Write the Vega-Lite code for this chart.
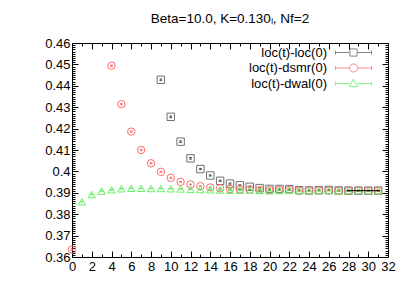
{
  "$schema": "https://vega.github.io/schema/vega-lite/v6.json",
  "autosize": "none",
  "width": 316,
  "height": 214,
  "padding": {"left": 72, "top": 43, "right": 21, "bottom": 29},
  "title": {"text": "Beta=10.0, K=0.130ₗ, Nf=2", "font": "Liberation Sans", "fontSize": 13.5, "fontWeight": "normal", "anchor": "middle", "offset": 12, "color": "black"},
  "config": {
    "view": {"stroke": "black", "strokeWidth": 1},
    "axis": {"grid": false, "domain": false, "tickColor": "black", "tickWidth": 1, "labelColor": "black", "labelFont": "Liberation Sans", "labelFontSize": 13, "labelOverlap": false, "labelFlush": false, "title": null}
  },
  "data": {"values": [
    {"series": "loc(t)-loc(0)", "t": 9, "y": 0.4428, "err": 0.0004},
    {"series": "loc(t)-loc(0)", "t": 10, "y": 0.4255, "err": 0.0004},
    {"series": "loc(t)-loc(0)", "t": 11, "y": 0.4139, "err": 0.0004},
    {"series": "loc(t)-loc(0)", "t": 12, "y": 0.4061, "err": 0.0004},
    {"series": "loc(t)-loc(0)", "t": 13, "y": 0.4011, "err": 0.0003},
    {"series": "loc(t)-loc(0)", "t": 14, "y": 0.3981, "err": 0.0003},
    {"series": "loc(t)-loc(0)", "t": 15, "y": 0.3956, "err": 0.0003},
    {"series": "loc(t)-loc(0)", "t": 16, "y": 0.3943, "err": 0.0003},
    {"series": "loc(t)-loc(0)", "t": 17, "y": 0.3935, "err": 0.0003},
    {"series": "loc(t)-loc(0)", "t": 18, "y": 0.3928, "err": 0.0003},
    {"series": "loc(t)-loc(0)", "t": 19, "y": 0.3922, "err": 0.0002},
    {"series": "loc(t)-loc(0)", "t": 20, "y": 0.3918, "err": 0.0002},
    {"series": "loc(t)-loc(0)", "t": 21, "y": 0.3918, "err": 0.0002},
    {"series": "loc(t)-loc(0)", "t": 22, "y": 0.3917, "err": 0.0002},
    {"series": "loc(t)-loc(0)", "t": 23, "y": 0.3912, "err": 0.0002},
    {"series": "loc(t)-loc(0)", "t": 24, "y": 0.3911, "err": 0.0002},
    {"series": "loc(t)-loc(0)", "t": 25, "y": 0.3912, "err": 0.0002},
    {"series": "loc(t)-loc(0)", "t": 26, "y": 0.3913, "err": 0.0002},
    {"series": "loc(t)-loc(0)", "t": 27, "y": 0.3911, "err": 0.0002},
    {"series": "loc(t)-loc(0)", "t": 28, "y": 0.3910, "err": 0.0002},
    {"series": "loc(t)-loc(0)", "t": 29, "y": 0.3910, "err": 0.0002},
    {"series": "loc(t)-loc(0)", "t": 30, "y": 0.3910, "err": 0.0002},
    {"series": "loc(t)-loc(0)", "t": 31, "y": 0.3910, "err": 0.0002},
    {"series": "loc(t)-dsmr(0)", "t": 0, "y": 0.3635, "err": 0.0003},
    {"series": "loc(t)-dsmr(0)", "t": 4, "y": 0.4494, "err": 0.0003},
    {"series": "loc(t)-dsmr(0)", "t": 5, "y": 0.4314, "err": 0.0003},
    {"series": "loc(t)-dsmr(0)", "t": 6, "y": 0.4186, "err": 0.0003},
    {"series": "loc(t)-dsmr(0)", "t": 7, "y": 0.4100, "err": 0.0003},
    {"series": "loc(t)-dsmr(0)", "t": 8, "y": 0.4038, "err": 0.0003},
    {"series": "loc(t)-dsmr(0)", "t": 9, "y": 0.3998, "err": 0.0003},
    {"series": "loc(t)-dsmr(0)", "t": 10, "y": 0.3970, "err": 0.0003},
    {"series": "loc(t)-dsmr(0)", "t": 11, "y": 0.3951, "err": 0.0002},
    {"series": "loc(t)-dsmr(0)", "t": 12, "y": 0.3939, "err": 0.0002},
    {"series": "loc(t)-dsmr(0)", "t": 13, "y": 0.3931, "err": 0.0002},
    {"series": "loc(t)-dsmr(0)", "t": 14, "y": 0.3925, "err": 0.0002},
    {"series": "loc(t)-dsmr(0)", "t": 15, "y": 0.3921, "err": 0.0002},
    {"series": "loc(t)-dsmr(0)", "t": 16, "y": 0.3918, "err": 0.0002},
    {"series": "loc(t)-dsmr(0)", "t": 17, "y": 0.3916, "err": 0.0002},
    {"series": "loc(t)-dsmr(0)", "t": 18, "y": 0.3915, "err": 0.0002},
    {"series": "loc(t)-dsmr(0)", "t": 19, "y": 0.3913, "err": 0.0002},
    {"series": "loc(t)-dsmr(0)", "t": 20, "y": 0.3912, "err": 0.0002},
    {"series": "loc(t)-dsmr(0)", "t": 21, "y": 0.3913, "err": 0.0002},
    {"series": "loc(t)-dsmr(0)", "t": 22, "y": 0.3913, "err": 0.0002},
    {"series": "loc(t)-dsmr(0)", "t": 23, "y": 0.3910, "err": 0.0002},
    {"series": "loc(t)-dsmr(0)", "t": 24, "y": 0.3910, "err": 0.0002},
    {"series": "loc(t)-dsmr(0)", "t": 25, "y": 0.3911, "err": 0.0002},
    {"series": "loc(t)-dsmr(0)", "t": 26, "y": 0.3911, "err": 0.0002},
    {"series": "loc(t)-dsmr(0)", "t": 27, "y": 0.3910, "err": 0.0002},
    {"series": "loc(t)-dsmr(0)", "t": 28, "y": 0.3910, "err": 0.0002},
    {"series": "loc(t)-dsmr(0)", "t": 29, "y": 0.3910, "err": 0.0002},
    {"series": "loc(t)-dsmr(0)", "t": 30, "y": 0.3910, "err": 0.0002},
    {"series": "loc(t)-dsmr(0)", "t": 31, "y": 0.3910, "err": 0.0002},
    {"series": "loc(t)-dwal(0)", "t": 1, "y": 0.3858, "err": 0.0001},
    {"series": "loc(t)-dwal(0)", "t": 2, "y": 0.3892, "err": 0.0001},
    {"series": "loc(t)-dwal(0)", "t": 3, "y": 0.3908, "err": 0.0001},
    {"series": "loc(t)-dwal(0)", "t": 4, "y": 0.3914, "err": 0.0001},
    {"series": "loc(t)-dwal(0)", "t": 5, "y": 0.3919, "err": 0.0001},
    {"series": "loc(t)-dwal(0)", "t": 6, "y": 0.3921, "err": 0.0001},
    {"series": "loc(t)-dwal(0)", "t": 7, "y": 0.3921, "err": 0.0001},
    {"series": "loc(t)-dwal(0)", "t": 8, "y": 0.3920, "err": 0.0001},
    {"series": "loc(t)-dwal(0)", "t": 9, "y": 0.3920, "err": 0.0001},
    {"series": "loc(t)-dwal(0)", "t": 10, "y": 0.3919, "err": 0.0001},
    {"series": "loc(t)-dwal(0)", "t": 11, "y": 0.3918, "err": 0.0001},
    {"series": "loc(t)-dwal(0)", "t": 12, "y": 0.3916, "err": 0.0001},
    {"series": "loc(t)-dwal(0)", "t": 13, "y": 0.3915, "err": 0.0001},
    {"series": "loc(t)-dwal(0)", "t": 14, "y": 0.3914, "err": 0.0001},
    {"series": "loc(t)-dwal(0)", "t": 15, "y": 0.3913, "err": 0.0001},
    {"series": "loc(t)-dwal(0)", "t": 16, "y": 0.3912, "err": 0.0001},
    {"series": "loc(t)-dwal(0)", "t": 17, "y": 0.3912, "err": 0.0001},
    {"series": "loc(t)-dwal(0)", "t": 18, "y": 0.3913, "err": 0.0001},
    {"series": "loc(t)-dwal(0)", "t": 19, "y": 0.3911, "err": 0.0001},
    {"series": "loc(t)-dwal(0)", "t": 20, "y": 0.3910, "err": 0.0001},
    {"series": "loc(t)-dwal(0)", "t": 21, "y": 0.3911, "err": 0.0001},
    {"series": "loc(t)-dwal(0)", "t": 22, "y": 0.3912, "err": 0.0001},
    {"series": "loc(t)-dwal(0)", "t": 23, "y": 0.3910, "err": 0.0001},
    {"series": "loc(t)-dwal(0)", "t": 24, "y": 0.3910, "err": 0.0001},
    {"series": "loc(t)-dwal(0)", "t": 25, "y": 0.3910, "err": 0.0001},
    {"series": "loc(t)-dwal(0)", "t": 26, "y": 0.3911, "err": 0.0001},
    {"series": "loc(t)-dwal(0)", "t": 27, "y": 0.3910, "err": 0.0001},
    {"series": "loc(t)-dwal(0)", "t": 28, "y": 0.3910, "err": 0.0001},
    {"series": "loc(t)-dwal(0)", "t": 29, "y": 0.3910, "err": 0.0001},
    {"series": "loc(t)-dwal(0)", "t": 30, "y": 0.3910, "err": 0.0001},
    {"series": "loc(t)-dwal(0)", "t": 31, "y": 0.3910, "err": 0.0001}
  ]},
  "resolve": {"axis": {"x": "independent", "y": "independent"}, "scale": {"color": "independent", "shape": "independent"}},
  "layer": [
    {
      "mark": {"type": "errorbar", "thickness": 1, "ticks": {"size": 3, "thickness": 1}},
      "encoding": {
        "x": {"field": "t", "type": "quantitative", "scale": {"domain": [0, 32], "nice": false}, "axis": {"orient": "bottom", "title": null, "values": [0,2,4,6,8,10,12,14,16,18,20,22,24,26,28,30,32], "tickSize": -6, "labelPadding": 9, "labelOverlap": false, "labelFlush": false}},
        "y": {"field": "y", "type": "quantitative", "title": null, "scale": {"domain": [0.36, 0.46], "zero": false, "nice": false}, "axis": {"orient": "left", "title": null, "values": [0.36,0.37,0.38,0.39,0.4,0.41,0.42,0.43,0.44,0.45,0.46], "format": "~g", "tickSize": -6, "labelPadding": 8, "labelOverlap": false, "labelFlush": false}},
        "yError": {"field": "err"},
        "color": {"field": "series", "type": "nominal", "scale": {"domain": ["loc(t)-loc(0)", "loc(t)-dsmr(0)", "loc(t)-dwal(0)"], "range": ["#333333", "#ff5050", "#40e040"]}, "legend": null}
      }
    },
    {
      "mark": {"type": "point", "filled": false, "strokeWidth": 1, "size": 55, "opacity": 1},
      "encoding": {
        "x": {"field": "t", "type": "quantitative", "axis": null},
        "y": {"field": "y", "type": "quantitative", "axis": null},
        "shape": {"field": "series", "type": "nominal", "scale": {"domain": ["loc(t)-loc(0)", "loc(t)-dsmr(0)", "loc(t)-dwal(0)"], "range": ["square", "circle", "triangle-up"]}, "legend": null},
        "color": {"field": "series", "type": "nominal", "scale": {"domain": ["loc(t)-loc(0)", "loc(t)-dsmr(0)", "loc(t)-dwal(0)"], "range": ["#707070", "#ff6a6a", "#66f066"]}, "legend": null}
      }
    },
    {
      "data": {"values": [{"t": 27.8, "y": 0.391}, {"t": 31.2, "y": 0.391}]},
      "mark": {"type": "line", "color": "black", "strokeWidth": 1},
      "encoding": {
        "x": {"field": "t", "type": "quantitative", "axis": null},
        "y": {"field": "y", "type": "quantitative", "axis": null}
      }
    },
    {
      "transform": [{"filter": "datum.t < 0"}],
      "mark": {"type": "point", "filled": false, "strokeWidth": 1},
      "encoding": {
        "x": {"field": "t", "type": "quantitative", "axis": null},
        "y": {"field": "y", "type": "quantitative", "axis": null},
        "shape": {"field": "series", "type": "nominal", "scale": {"domain": ["loc(t)-loc(0)", "loc(t)-dsmr(0)", "loc(t)-dwal(0)"], "range": [
          "M-4,0H-0.8M0.8,0H4M-4,-0.45V0.45M4,-0.45V0.45M-0.8,-0.8H0.8V0.8H-0.8Z",
          "M-4,0H-0.9M0.9,0H4M-4,-0.45V0.45M4,-0.45V0.45M0.9,0A0.9,0.9 0 1,1 -0.9,0A0.9,0.9 0 1,1 0.9,0",
          "M-4,0H-0.9M0.9,0H4M-4,-0.45V0.45M4,-0.45V0.45M0,-0.95L0.95,0.7L-0.95,0.7Z"
        ]}, "legend": {"title": null}},
        "color": {"field": "series", "type": "nominal", "scale": {"domain": ["loc(t)-loc(0)", "loc(t)-dsmr(0)", "loc(t)-dwal(0)"], "range": ["#555555", "#ff6060", "#50f050"]}, "legend": {
          "title": null, "orient": "none", "legendX": 275, "legendY": 3, "padding": 0,
          "symbolSize": 81, "symbolStrokeWidth": 1, "symbolFillColor": "transparent",
          "labelAlign": "right", "labelOffset": -33, "labelFont": "Liberation Sans", "labelFontSize": 13, "labelColor": "black", "rowPadding": 1.5, "labelLimit": 300
        }}
      }
    },
    {
      "mark": {"type": "point", "opacity": 0},
      "encoding": {
        "x": {"field": "t", "type": "quantitative", "axis": {"orient": "top", "title": null, "values": [0,2,4,6,8,10,12,14,16,18,20,22,24,26,28,30,32], "tickSize": -6, "labels": false}},
        "y": {"field": "y", "type": "quantitative", "axis": {"orient": "right", "title": null, "values": [0.36,0.37,0.38,0.39,0.4,0.41,0.42,0.43,0.44,0.45,0.46], "tickSize": -6, "labels": false}}
      }
    },
    {
      "mark": {"type": "point", "opacity": 0},
      "encoding": {
        "x": {"field": "t", "type": "quantitative", "axis": {"orient": "bottom", "title": null, "values": [1,3,5,7,9,11,13,15,17,19,21,23,25,27,29,31], "tickSize": -3, "labels": false}},
        "y": {"field": "y", "type": "quantitative", "axis": {"orient": "left", "title": null, "values": [0.361,0.362,0.363,0.364,0.365,0.366,0.367,0.368,0.369,0.371,0.372,0.373,0.374,0.375,0.376,0.377,0.378,0.379,0.381,0.382,0.383,0.384,0.385,0.386,0.387,0.388,0.389,0.391,0.392,0.393,0.394,0.395,0.396,0.397,0.398,0.399,0.401,0.402,0.403,0.404,0.405,0.406,0.407,0.408,0.409,0.411,0.412,0.413,0.414,0.415,0.416,0.417,0.418,0.419,0.421,0.422,0.423,0.424,0.425,0.426,0.427,0.428,0.429,0.431,0.432,0.433,0.434,0.435,0.436,0.437,0.438,0.439,0.441,0.442,0.443,0.444,0.445,0.446,0.447,0.448,0.449,0.451,0.452,0.453,0.454,0.455,0.456,0.457,0.458,0.459], "tickSize": -3, "labels": false}}
      }
    },
    {
      "mark": {"type": "point", "opacity": 0},
      "encoding": {
        "x": {"field": "t", "type": "quantitative", "axis": {"orient": "top", "title": null, "values": [1,3,5,7,9,11,13,15,17,19,21,23,25,27,29,31], "tickSize": -3, "labels": false}},
        "y": {"field": "y", "type": "quantitative", "axis": {"orient": "right", "title": null, "values": [0.361,0.362,0.363,0.364,0.365,0.366,0.367,0.368,0.369,0.371,0.372,0.373,0.374,0.375,0.376,0.377,0.378,0.379,0.381,0.382,0.383,0.384,0.385,0.386,0.387,0.388,0.389,0.391,0.392,0.393,0.394,0.395,0.396,0.397,0.398,0.399,0.401,0.402,0.403,0.404,0.405,0.406,0.407,0.408,0.409,0.411,0.412,0.413,0.414,0.415,0.416,0.417,0.418,0.419,0.421,0.422,0.423,0.424,0.425,0.426,0.427,0.428,0.429,0.431,0.432,0.433,0.434,0.435,0.436,0.437,0.438,0.439,0.441,0.442,0.443,0.444,0.445,0.446,0.447,0.448,0.449,0.451,0.452,0.453,0.454,0.455,0.456,0.457,0.458,0.459], "tickSize": -3, "labels": false}}
      }
    }
  ]
}
